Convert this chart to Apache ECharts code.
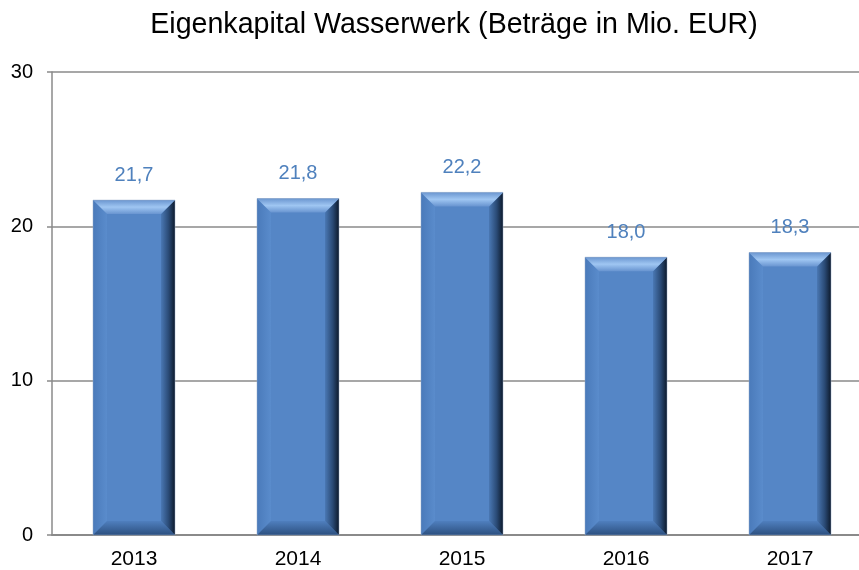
<!DOCTYPE html>
<html>
<head>
<meta charset="utf-8">
<script src="https://cdn.jsdelivr.net/npm/echarts@6/dist/echarts.min.js"></script>
<style>
  html, body { margin: 0; padding: 0; background: #fff; }
  #chart { width: 859px; height: 570px; }
</style>
</head>
<body>
<div id="chart"></div>
<script>
// Daten
const years = ["2013", "2014", "2015", "2016", "2017"];
const equity = [21.7, 21.8, 22.2, 18.0, 18.3];
const yTicks = [0, 10, 20, 30];

const font = "Liberation Sans, Arial, Helvetica, sans-serif";
const axisGray = "#8a8a8a";

// Balken mit Facette (Bevel) wie im Original
function renderBevelBar(params, api) {
  const idx = api.value(0);
  const val = api.value(1);
  const top = api.coord([idx, val]);
  const base = api.coord([idx, 0]);
  const bw = api.size([1, 0])[0] * 0.5;
  const x0 = top[0] - bw / 2;
  const x1 = top[0] + bw / 2;
  const y0 = top[1];
  const y1 = base[1];
  const b = 14;

  const grad = (x, y, x2, y2, stops) =>
    new echarts.graphic.LinearGradient(x, y, x2, y2, stops);

  return {
    type: "group",
    children: [
      {
        type: "rect",
        shape: { x: x0, y: y0, width: bw, height: y1 - y0 },
        style: { fill: "#5586c6" },
      },
      {
        // links
        type: "polygon",
        shape: { points: [[x0, y0], [x0 + b, y0 + b], [x0 + b, y1 - b], [x0, y1]] },
        style: {
          fill: grad(0, 0, 1, 0, [
            { offset: 0, color: "#4a7aba" },
            { offset: 1, color: "#5a8ccc" },
          ]),
        },
      },
      {
        // unten
        type: "polygon",
        shape: { points: [[x0, y1], [x1, y1], [x1 - b, y1 - b], [x0 + b, y1 - b]] },
        style: {
          fill: grad(0, 0, 0, 1, [
            { offset: 0, color: "#4f7fbe" },
            { offset: 1, color: "#2c5080" },
          ]),
        },
      },
      {
        // rechts
        type: "polygon",
        shape: { points: [[x1, y0], [x1, y1], [x1 - b, y1 - b], [x1 - b, y0 + b]] },
        style: {
          fill: grad(0, 0, 1, 0, [
            { offset: 0, color: "#4a78b4" },
            { offset: 0.55, color: "#2a4a75" },
            { offset: 1, color: "#0d1a2c" },
          ]),
        },
      },
      {
        // oben
        type: "polygon",
        shape: { points: [[x0, y0], [x1, y0], [x1 - b, y0 + b], [x0 + b, y0 + b]] },
        style: {
          fill: grad(0, 0, 0, 1, [
            { offset: 0, color: "#6b96d0" },
            { offset: 0.5, color: "#9fc6f2" },
            { offset: 1, color: "#6894d0" },
          ]),
        },
      },
      {
        type: "rect",
        shape: { x: x0, y: y0, width: bw, height: y1 - y0 },
        style: { fill: "none", stroke: "rgba(150,170,200,0.6)", lineWidth: 0.8 },
      },
      {
        type: "text",
        x: top[0],
        y: y0 - 15,
        style: {
          text: val.toFixed(1).replace(".", ","),
          fill: "#4f81bd",
          font: "20px " + font,
          align: "center",
          verticalAlign: "bottom",
        },
      },
    ],
  };
}

const chart = echarts.init(document.getElementById("chart"));
chart.setOption({
  backgroundColor: "#fff",
  animation: false,
  title: {
    text: "Eigenkapital Wasserwerk (Beträge in Mio. EUR)",
    left: 449,
    textAlign: "center",
    top: 6,
    textStyle: { fontFamily: font, fontSize: 28.6, fontWeight: "normal", color: "#000" },
  },
  grid: { left: 52, top: 72, right: -13, bottom: 35, outerBoundsMode: "none" },
  xAxis: {
    type: "category",
    data: years,
    axisLine: { lineStyle: { color: axisGray, width: 2 } },
    axisTick: { length: 5, lineStyle: { color: axisGray, width: 1.5 } },
    axisLabel: { color: "#000", fontFamily: font, fontSize: 21, margin: 14 },
  },
  yAxis: {
    type: "value",
    min: yTicks[0],
    max: yTicks[yTicks.length - 1],
    interval: 10,
    axisLine: { show: true, lineStyle: { color: axisGray, width: 1.5 } },
    axisTick: { show: true, length: 5, lineStyle: { color: axisGray, width: 1.5 } },
    splitLine: { lineStyle: { color: axisGray, width: 1.5 } },
    axisLabel: { color: "#000", fontFamily: font, fontSize: 20, margin: 19 },
  },
  series: [
    {
      type: "custom",
      renderItem: renderBevelBar,
      encode: { x: 0, y: 1 },
      data: equity.map((v, i) => [i, v]),
      z: 2,
    },
  ],
});
</script>
</body>
</html>
